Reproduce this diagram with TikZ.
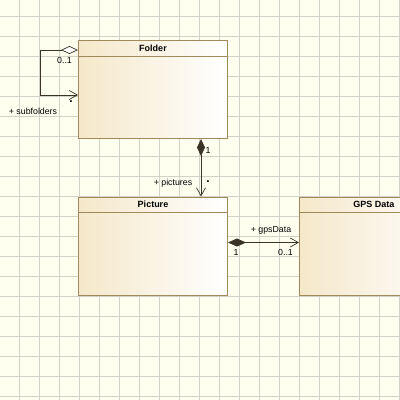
\documentclass[tikz,border=0pt]{standalone}
\usepackage{fontspec}
\setmainfont{Liberation Sans}
\usetikzlibrary{arrows.meta,calc}
\definecolor{bg}{HTML}{FFFFF0}
\definecolor{gridc}{HTML}{D2D2C8}
\definecolor{boxtan}{HTML}{F5E8CA}
\definecolor{boxedge}{HTML}{A08A5C}
\definecolor{linec}{HTML}{3A3428}
\tikzset{
  umlbox/.style={draw=boxedge, line width=1pt, left color=boxtan, right color=white,
    minimum width=149pt, minimum height=98pt, inner sep=0pt, anchor=north west},
  title/.style={font=\bfseries\fontsize{9}{10}\selectfont, inner sep=0pt},
  lbl/.style={font=\fontsize{8.8}{10}\selectfont, inner sep=0pt, text=black},
  star/.style={font=\bfseries\fontsize{12}{12}\selectfont, inner sep=0pt, text=black},
  hdr/.style={draw=boxedge, line width=0.8pt},
  assoc/.style={draw=linec, line width=0.8pt},
}
\begin{document}
\begin{tikzpicture}[x=1pt,y=-1pt]
\useasboundingbox (0,0) rectangle (400,400);
\clip (0,0) rectangle (400,400);
\fill[bg] (0,0) rectangle (400,400);
\foreach \i in {0,...,19} {
  \draw[gridc, line width=0.7pt] (19.5+20*\i,0) -- (19.5+20*\i,400);
  \draw[gridc, line width=0.7pt] (0,16.5+20*\i) -- (400,16.5+20*\i);
}
% boxes
\node[umlbox] (folder) at (78,40) {};
\node[umlbox] (picture) at (78,196.5) {};
\node[umlbox] (gps) at (299,196.5) {};
\draw[hdr] ($(folder.north west)+(0,16)$) -- ($(folder.north east)+(0,16)$);
\draw[hdr] ($(picture.north west)+(0,16)$) -- ($(picture.north east)+(0,16)$);
\draw[hdr] ($(gps.north west)+(0,16)$) -- ($(gps.north east)+(0,16)$);
\node[title] (ftitle) at ($(folder.north)+(0,8)$) {Folder};
\node[title] (ptitle) at ($(picture.north)+(0,8)$) {Picture};
\node[title] (gtitle) at ($(gps.north)+(0,8)$) {GPS Data};
% self association
\coordinate (s1) at ($(folder.north west)+(0,10)$);
\coordinate (s2) at ($(folder.north west)+(0,55)$);
\draw[assoc, {Diamond[open,fill=white,length=17pt,width=8pt,line width=0.7pt]}-{Straight Barb[length=8pt,width=9pt,line width=0.7pt]}]
  (s1) -- ++(-38,0) |- (s2);
\node[lbl] (m1) at (64.5,60) {0..1};
\node[star] (m2) at (71,102) {.};
\node[lbl] (r1) at (33,111) {+ subfolders};
% composition folder -> picture
\coordinate (c1) at ($(folder.south west)+(123,0)$);
\coordinate (c2) at ($(picture.north west)+(123,0)$);
\draw[assoc, {Diamond[length=17pt,width=8pt,line width=0.7pt,fill=linec]}-{Straight Barb[length=8pt,width=9pt,line width=0.7pt]}]
  (c1) -- (c2);
\node[lbl] (m3) at (208,150) {1};
\node[lbl] (r2) at (173,183) {+ pictures};
\node[star] (m4) at (208,182) {.};
% composition picture -> gps
\coordinate (g1) at ($(picture.north east)+(0,46)$);
\coordinate (g2) at ($(gps.north west)+(0,46)$);
\draw[assoc, {Diamond[length=18pt,width=8pt,line width=0.7pt,fill=linec]}-{Straight Barb[length=8pt,width=9pt,line width=0.7pt]}]
  (g1) -- (g2);
\node[lbl] (r3) at (271,230) {+ gpsData};
\node[lbl] (m5) at (236,252.5) {1};
\node[lbl] (m6) at (285.5,252.5) {0..1};
\end{tikzpicture}
\end{document}
